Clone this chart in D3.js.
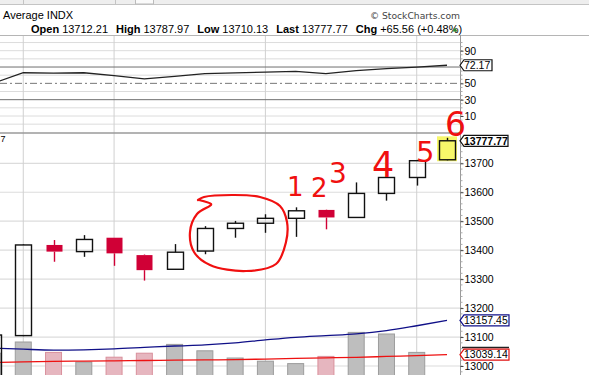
<!DOCTYPE html>
<html><head><meta charset="utf-8">
<script src="https://cdn.jsdelivr.net/npm/d3@7"></script>
<style>body{margin:0;background:#fff}svg{display:block;font-family:"Liberation Sans",Arial,sans-serif}</style>
</head><body><svg id="c" width="589" height="375"></svg>
<script>
// ---------- data ----------
const days  = d3.range(16);               // trading sessions, oldest first
const open  = [12850, 13105, 13418, 13395, 13443, 13383, 13334, 13397, 13475, 13493, 13510, 13539, 13513, 13596, 13651, 13712.21];
const high  = [13112, 13420, 13435, 13452, 13443, 13385, 13421, 13483, 13501, 13524, 13548, 13540, 13634, 13651, 13712, 13787.97];
const low   = [12830, 13103, 13360, 13377, 13346, 13295, 13332, 13386, 13443, 13460, 13446, 13472, 13513, 13571, 13623, 13710.13];
const close = [13107, 13418, 13395, 13437, 13389, 13331, 13393, 13475, 13493, 13510, 13536, 13513, 13596, 13651, 13709, 13777.77];
const volume = [31, 45, 32, 20, 26, 31, 42, 34, 25, 21, 18, 27, 57, 55, 32, 0];
const maBlue = [13062, 13058, 13055, 13056, 13059, 13064, 13069, 13073, 13080, 13090, 13099, 13105, 13111, 13122, 13139, 13157.45];
const maRed  = [13012, 13014, 13016, 13017, 13018, 13019, 13020, 13021, 13022, 13024, 13026, 13028, 13030, 13033, 13036, 13039.14];
const rsi    = [50, 63, 62.5, 63, 59.5, 55.5, 58.5, 61.8, 62.8, 63.8, 64.6, 61.8, 65.5, 68, 70, 72.17];
const gridDays = [1, 4, 9, 14];
const priceTicks = [13000, 13100, 13200, 13300, 13400, 13500, 13600, 13700];
const rsiTicks = [10, 30, 50, 90];
const rsiGrid = [0, 10, 20, 40, 60, 80, 90, 100];
const headerParts = [["Open", "13712.21"], ["High", "13787.97"], ["Low", "13710.13"], ["Last", "13777.77"], ["Chg", "+65.56 (+0.48%)"]];

// ---------- scales ----------
const svg = d3.select("#c");
const AX = 460;
const x = d3.scalePoint().domain(days).range([-7, 447]);
const y = d3.scaleLinear().domain([13000, 13700]).range([366, 163.3]);
const yR = d3.scaleLinear().domain([10, 90]).range([116, 50.7]);
const yV = d3.scaleLinear().domain([0, 100]).range([378, 298]);
const BW = 16;

// ---------- header ----------
svg.append("rect").attr("x", 0).attr("y", 0).attr("width", 589).attr("height", 4).attr("fill", "#eeeeee");
svg.append("line").attr("x1", 0).attr("x2", 589).attr("y1", 4.5).attr("y2", 4.5).attr("stroke", "#c4c4c4");
[23.5, 115.5].forEach(v => svg.append("line").attr("x1", v).attr("x2", v).attr("y1", 0).attr("y2", 4).attr("stroke", "#c4c4c4"));
svg.append("rect").attr("x", 135.5).attr("y", -1).attr("width", 18).attr("height", 5).attr("fill", "#fafafa").attr("stroke", "#bbb");

svg.append("text").attr("x", 3).attr("y", 19).attr("font-size", 11).text("Average INDX");
svg.append("text").attr("x", 460).attr("y", 19).attr("text-anchor", "end").attr("font-size", 9.2)
   .attr("font-family", "DejaVu Sans").attr("fill", "#444").text("© StockCharts.com");
const ht = svg.append("text").attr("x", 31).attr("y", 33).attr("font-size", 11);
headerParts.forEach((p, i) => {
  ht.append("tspan").attr("font-weight", "bold").attr("dx", i ? 8 : 0).text(p[0]);
  ht.append("tspan").attr("dx", 3).text(p[1]);
});
svg.append("path").attr("d", "M452.5,31.5 L457.5,31.5 L455,27.5 Z").attr("fill", "#2c8c2c");

// ---------- RSI panel ----------
const gR = svg.append("g");
rsiGrid.forEach(v => gR.append("line").attr("x1", 0).attr("x2", AX).attr("y1", yR(v)).attr("y2", yR(v)).attr("stroke", "#dcdcdc"));
gridDays.forEach(d => gR.append("line").attr("x1", x(d)).attr("x2", x(d)).attr("y1", 35).attr("y2", 133).attr("stroke", "#d0d0d0"));
[70, 30].forEach(v => gR.append("line").attr("x1", 0).attr("x2", AX).attr("y1", yR(v)).attr("y2", yR(v)).attr("stroke", "#6e6e6e"));
gR.append("line").attr("x1", 0).attr("x2", AX).attr("y1", yR(50)).attr("y2", yR(50)).attr("stroke", "#777").attr("stroke-dasharray", "7,3,2,3");
gR.append("line").attr("x1", 0).attr("x2", 589).attr("y1", 35.5).attr("y2", 35.5).attr("stroke", "#b5b5b5");
gR.append("path").datum(days).attr("fill", "none").attr("stroke", "#222").attr("stroke-width", 1.3)
  .attr("d", d3.line().x(d => x(d)).y(d => yR(rsi[d])));

// ---------- price panel ----------
svg.append("defs").append("clipPath").attr("id", "cp").append("rect").attr("x", 0).attr("y", 133).attr("width", AX).attr("height", 250);
const gP = svg.append("g").attr("clip-path", "url(#cp)");
priceTicks.forEach(v => gP.append("line").attr("x1", 0).attr("x2", AX).attr("y1", y(v)).attr("y2", y(v)).attr("stroke", "#dcdcdc").attr("stroke-width", 1.2));
gridDays.forEach(d => gP.append("line").attr("x1", x(d)).attr("x2", x(d)).attr("y1", 133).attr("y2", 375).attr("stroke", "#d0d0d0"));

// volume
days.forEach(d => {
  const down = d > 0 && close[d] < close[d - 1];
  if (volume[d] <= 0) return;
  gP.append("rect").attr("x", x(d) - BW / 2).attr("width", BW).attr("y", yV(volume[d])).attr("height", yV(0) - yV(volume[d]))
    .attr("fill", down ? "#e6b6bf" : "#bebebe").attr("stroke", down ? "#d9909c" : "#9c9c9c");
});

// moving averages
gP.append("path").datum(days).attr("fill", "none").attr("stroke", "#101088").attr("stroke-width", 1.3)
  .attr("d", d3.line().curve(d3.curveMonotoneX).x(d => x(d)).y(d => y(maBlue[d])));
gP.append("path").datum(days).attr("fill", "none").attr("stroke", "#ee1111").attr("stroke-width", 1.3)
  .attr("d", d3.line().curve(d3.curveMonotoneX).x(d => x(d)).y(d => y(maRed[d])));

// candles
const last = days.length - 1;
gP.append("rect").attr("x", x(last) - BW / 2 - 2).attr("y", y(high[last]) - 1.5).attr("width", BW + 4)
  .attr("height", y(Math.min(open[last], close[last])) - y(high[last]) + 3).attr("fill", "#f7f76a");
days.forEach(d => {
  const up = close[d] >= open[d];
  const downPrev = d > 0 && close[d] < close[d - 1];
  const col = d === last ? "#111" : (downPrev ? "#d00036" : "#111");
  const top = Math.max(open[d], close[d]), bot = Math.min(open[d], close[d]);
  const cx = Math.round(x(d)) + 0.5;
  gP.append("line").attr("x1", cx).attr("x2", cx).attr("y1", y(high[d])).attr("y2", y(top)).attr("stroke", col).attr("stroke-width", 1.4);
  gP.append("line").attr("x1", cx).attr("x2", cx).attr("y1", y(bot)).attr("y2", y(low[d])).attr("stroke", col).attr("stroke-width", 1.4);
  gP.append("rect").attr("x", cx - BW / 2).attr("width", BW).attr("y", y(top)).attr("height", Math.max(1, y(bot) - y(top)))
    .attr("fill", d === last ? "#f7f76a" : (up ? "none" : col)).attr("stroke", col).attr("stroke-width", up || d === last ? 1.4 : 0);
});

svg.append("line").attr("x1", 0).attr("x2", AX).attr("y1", 133).attr("y2", 133).attr("stroke", "#9a9a9a").attr("stroke-width", 1.5);
svg.append("text").attr("x", 0.5).attr("y", 141.5).attr("font-size", 9).text("7");

// ---------- right axis ----------
svg.append("line").attr("x1", AX + 0.5).attr("x2", AX + 0.5).attr("y1", 35).attr("y2", 375).attr("stroke", "#9a9a9a");
d3.range(12980, 13800, 20).forEach(v => svg.append("line").attr("x1", AX + 0.5).attr("x2", AX + 2.5).attr("y1", y(v)).attr("y2", y(v)).attr("stroke", "#aaa"));
d3.range(0, 101, 5).forEach(v => svg.append("line").attr("x1", AX + 0.5).attr("x2", AX + 2.5).attr("y1", yR(v)).attr("y2", yR(v)).attr("stroke", "#aaa"));
const yAxis = d3.axisRight(y).tickValues(priceTicks).tickSize(3).tickPadding(1).tickFormat(d3.format("d"));
const ga = svg.append("g").attr("transform", `translate(${AX + 0.5},0)`).call(yAxis);
const rAxis = d3.axisRight(yR).tickValues(rsiTicks).tickSize(3).tickPadding(1).tickFormat(d3.format("d"));
const gr = svg.append("g").attr("transform", `translate(${AX + 0.5},0)`).call(rAxis);
[ga, gr].forEach(g => {
  g.select(".domain").remove();
  g.selectAll("line").attr("stroke", "#444");
  g.selectAll("text").attr("font-size", 10.5).attr("font-family", "Liberation Sans").attr("fill", "#000");
});

function tag(val, yy, stroke, bold, w) {
  const g = svg.append("g");
  const h = 5.5;
  g.append("path").attr("d", `M${AX},${yy} L${AX + 4},${yy - h} L${AX + w},${yy - h} L${AX + w},${yy + h} L${AX + 4},${yy + h} Z`)
    .attr("fill", "#fff").attr("stroke", stroke).attr("stroke-width", 1.2);
  g.append("text").attr("x", AX + 4).attr("y", yy + 3.8).attr("font-size", 10.5).attr("font-weight", bold ? "bold" : "normal").text(val);
}
tag("72.17", yR(rsi[last]), "#111", false, 32);
tag("13777.77", y(close[last]), "#111", true, 48);
tag("13157.45", y(maBlue[last]), "#10108a", false, 49);
svg.append("line").attr("x1", AX + 2).attr("x2", AX + 49).attr("y1", 347.5).attr("y2", 347.5).attr("stroke", "#222").attr("stroke-width", 1.3);
tag("13039.14", y(maRed[last]), "#e01010", false, 49);

// ---------- hand-drawn annotations ----------
const ann = svg.append("g").attr("fill", "none").attr("stroke", "#f01010").attr("stroke-width", 2.2).attr("stroke-linecap", "round");
const loop = [[199,200],[211,204],[211,205],[197,214],[190,232],[194,252],[210,265],[246,271],[276,264],[286,242],[287,222],[280,206],[260,197],[233,195],[204,197],[198,200]];
ann.append("path").attr("d", d3.line().curve(d3.curveCatmullRom)(loop));
const marks = [["1", 287, 196, 26], ["2", 311, 197, 26], ["3", 329, 183, 28], ["4", 372, 177, 35], ["5", 416, 162, 29], ["6", 445, 136, 33]];
marks.forEach(m => svg.append("text").attr("x", m[1]).attr("y", m[2]).attr("font-size", m[3]).attr("font-family", "DejaVu Sans")
  .attr("fill", "#f01010").text(m[0]));
</script></body></html>
